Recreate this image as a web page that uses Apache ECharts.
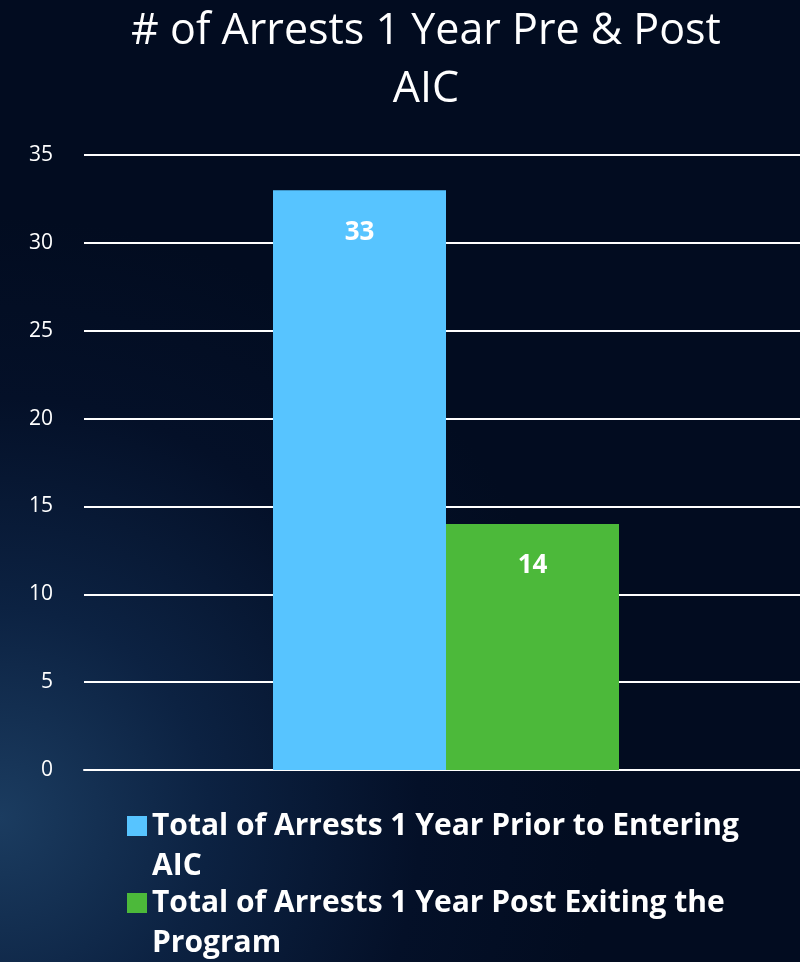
<!DOCTYPE html>
<html>
<head>
<meta charset="utf-8">
<script src="https://cdn.jsdelivr.net/npm/echarts@6/dist/echarts.min.js"></script>
<style>
html,body{margin:0;padding:0;background:#020c20;}
#chart{width:800px;height:962px;}
</style>
</head>
<body>
<div id="chart"></div>
<script>
const titleText = '# of Arrests 1 Year Pre & Post\nAIC';
const categories = [''];
const seriesNames = ['Total of Arrests 1 Year Prior to Entering AIC', 'Total of Arrests 1 Year Post Exiting the Program'];
const legendLabels = ['Total of Arrests 1 Year Prior to Entering\nAIC', 'Total of Arrests 1 Year Post Exiting the\nProgram'];
const priorValues = [33];
const postValues = [14];
const yTicks = {min: 0, max: 35, interval: 5};
const colors = ['#57c4ff', '#4cb93a'];

const chart = echarts.init(document.getElementById('chart'));
const icon = 'path://M0,0L0,0.01M20,80L20,79.99M0,10L20,10L20,30L0,30Z';
const legendText = {color: '#ffffff', fontFamily: 'Open Sans', fontWeight: 'bold', fontSize: 30, lineHeight: 40};
function makeLegend(i, top) {
  return {
    orient: 'vertical', left: 122, top: top,
    itemWidth: 20, itemHeight: 80, itemGap: 0,
    icon: icon,
    data: [seriesNames[i]],
    formatter: function (name) { return legendLabels[seriesNames.indexOf(name)]; },
    textStyle: legendText
  };
}
const labelStyle = {show: true, position: 'insideTop', distance: 29, color: '#ffffff', fontFamily: 'Open Sans', fontWeight: 'bold', fontSize: 26};
chart.setOption({
  backgroundColor: {
    type: 'radial', x: 0.0, y: 0.85, r: 0.75,
    colorStops: [
      {offset: 0, color: '#1b3c60'},
      {offset: 0.35, color: '#0c2242'},
      {offset: 0.7, color: '#041028'},
      {offset: 1, color: '#020c20'}
    ]
  },
  title: {
    text: titleText,
    left: 421, top: -2, textAlign: 'center',
    textStyle: {color: '#ffffff', fontFamily: 'Open Sans', fontWeight: 'normal', fontSize: 43, lineHeight: 58}
  },
  legend: [makeLegend(0, 801), makeLegend(1, 878)],
  grid: {left: 84, width: 724, top: 155, height: 615, containLabel: false, outerBoundsMode: 'none'},
  xAxis: {
    type: 'category', data: categories,
    axisLine: {show: true, lineStyle: {color: '#ffffff', width: 2}},
    axisTick: {show: false}, axisLabel: {show: false}
  },
  yAxis: {
    type: 'value', min: yTicks.min, max: yTicks.max, interval: yTicks.interval,
    axisLine: {show: false}, axisTick: {show: false},
    axisLabel: {color: '#ffffff', fontFamily: 'Open Sans', fontSize: 21, margin: 31},
    splitLine: {lineStyle: {color: '#ffffff', width: 2}}
  },
  series: [
    {name: seriesNames[0], type: 'bar', data: priorValues, barWidth: 173, barGap: '0%',
     itemStyle: {color: colors[0]}, label: labelStyle},
    {name: seriesNames[1], type: 'bar', data: postValues, barWidth: 173, barGap: '0%',
     itemStyle: {color: colors[1]}, label: labelStyle}
  ]
});
</script>
</body>
</html>
